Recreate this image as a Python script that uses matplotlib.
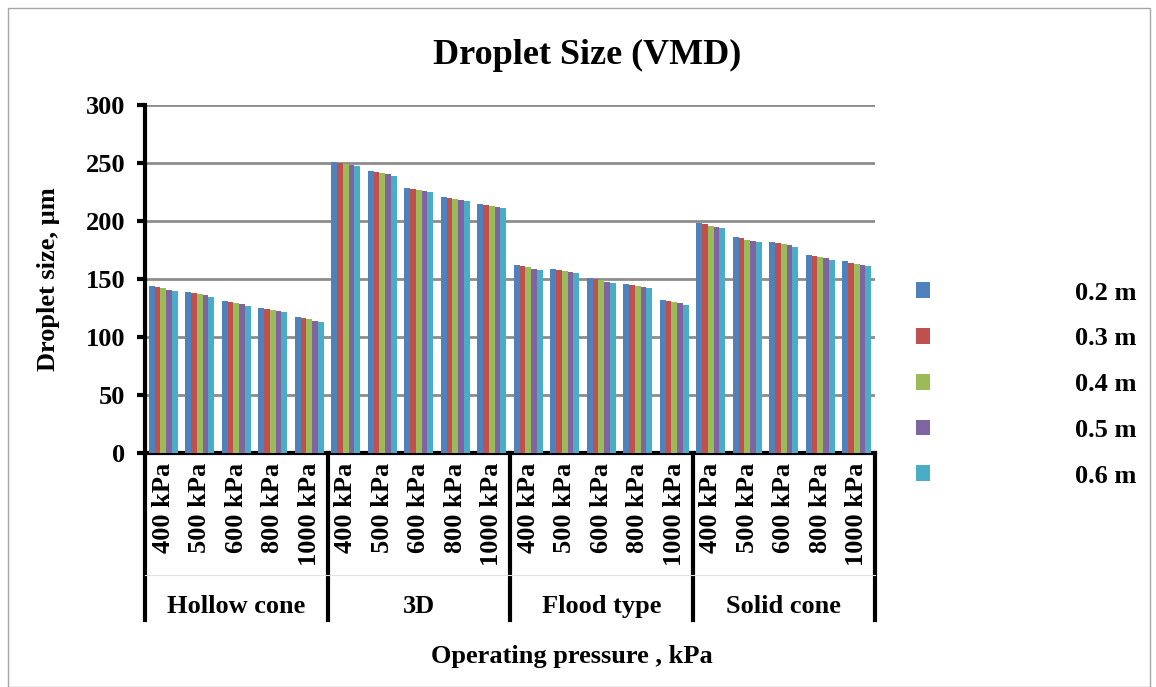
import matplotlib
matplotlib.use("Agg")
import matplotlib.pyplot as plt
import matplotlib.transforms as mtransforms
from matplotlib.patches import Rectangle
import numpy as np

# nozzle types and operating pressures (two-level x axis)
nozzles = ['Hollow cone', '3D', 'Flood type', 'Solid cone']
pressures = ['400 kPa', '500 kPa', '600 kPa', '800 kPa', '1000 kPa']
heights = ['0.2 m', '0.3 m', '0.4 m', '0.5 m', '0.6 m']

# droplet size (VMD, um) for each nozzle height, 20 categories each
h02 = [144.0, 139.1, 131.0, 125.0, 117.0, 251.0, 243.1, 228.7, 220.7, 214.9,
       162.0, 158.9, 150.6, 146.0, 131.9, 198.3, 186.2, 182.2, 170.9, 165.3]
h03 = [142.8, 137.9, 130.2, 123.9, 116.1, 250.0, 242.0, 227.8, 219.8, 214.0,
       161.2, 158.0, 149.7, 144.8, 131.0, 197.2, 185.1, 181.0, 169.8, 163.8]
h04 = [141.9, 137.1, 129.3, 123.0, 115.2, 249.4, 241.1, 227.0, 219.0, 212.9,
       160.0, 156.9, 148.9, 143.7, 129.9, 195.7, 183.9, 179.9, 169.0, 163.0]
h05 = [140.8, 136.0, 128.2, 122.2, 114.0, 248.3, 240.3, 225.9, 217.8, 211.8,
       158.9, 155.8, 147.7, 142.8, 129.0, 194.8, 182.8, 179.0, 167.8, 161.8]
h06 = [139.7, 134.8, 126.7, 121.3, 112.9, 247.2, 238.8, 225.0, 217.0, 211.0,
       158.0, 154.9, 146.8, 142.0, 127.8, 193.7, 181.9, 177.8, 166.6, 161.0]

colors = ['#4F81BD', '#C0504D', '#9BBB59', '#8064A2', '#4BACC6']

plt.rcParams['font.family'] = 'Liberation Serif'
plt.rcParams['font.weight'] = 'bold'
plt.rcParams['axes.labelweight'] = 'bold'

W, H = 1156, 687
fig = plt.figure(figsize=(W / 100, H / 100), dpi=100)
ax = fig.add_axes([145 / W, 1 - 453 / H, 730 / W, 348 / H])

series = [h02, h03, h04, h05, h06]
ncat = len(nozzles) * len(pressures)
x = np.arange(ncat)
bw = 0.158
bars = []
for i, vals in enumerate(series):
    b = ax.bar(x + (i - 2) * bw, vals, bw, color=colors[i], label=heights[i], zorder=3)
    bars.append(b)

ax.set_xlim(-0.5, ncat - 0.5)
ax.set_ylim(0, 300)
ax.set_yticks(np.arange(0, 301, 50))
ax.yaxis.grid(True, color='#8c8c8c', linewidth=2, zorder=0)
ax.set_axisbelow(True)
for s in ['top', 'right']:
    ax.spines[s].set_visible(False)
ax.spines['left'].set_linewidth(3)
ax.spines['bottom'].set_linewidth(3)
ax.tick_params(axis='y', direction='out', length=6, width=3, pad=8, labelsize=19)

ax.set_xticks(x)
ax.set_xticklabels(pressures * len(nozzles), rotation=90, va='top', fontsize=19)
ax.tick_params(axis='x', length=0, pad=7)

# group separators and group labels below the axis
trans = mtransforms.blended_transform_factory(ax.transData, ax.transAxes)
for k in range(len(nozzles) + 1):
    xb = k * len(pressures) - 0.5
    ax.plot([xb, xb], [0, -0.48], color='black', lw=3, transform=trans, clip_on=False)
ax.plot([-0.5, ncat - 0.5], [-0.35, -0.35], color='#e0e0e0', lw=0.8,
        transform=trans, clip_on=False)
for k, name in enumerate(nozzles):
    xc = k * len(pressures) + 2
    ax.text(xc, -0.44, name, transform=trans, ha='center', va='center', fontsize=19)

ax.set_ylabel('Droplet size, µm', fontsize=19, fontweight='bold')
ax.yaxis.set_label_coords(-0.116, 0.5)
fig.text(572 / W, 1 - 657 / H, 'Operating pressure , kPa', ha='center', va='center',
         fontsize=19)
fig.text(587 / W, 1 - 55 / H, 'Droplet Size (VMD)', ha='center', va='center',
         fontsize=26)

leg = ax.legend(handles=bars, labels=heights, loc='upper left',
                bbox_to_anchor=(892 / W, 1 - 258 / H), bbox_transform=fig.transFigure,
                frameon=False, fontsize=19, handlelength=0.55, handleheight=0.55,
                handletextpad=5.5, labelspacing=0.86)

fig.patches.append(Rectangle((8 / W, 0), 1142 / W, 1 - 8 / H, transform=fig.transFigure,
                             fill=False, edgecolor='#a6a6a6', linewidth=1))

fig.savefig('out.png', dpi=100)
